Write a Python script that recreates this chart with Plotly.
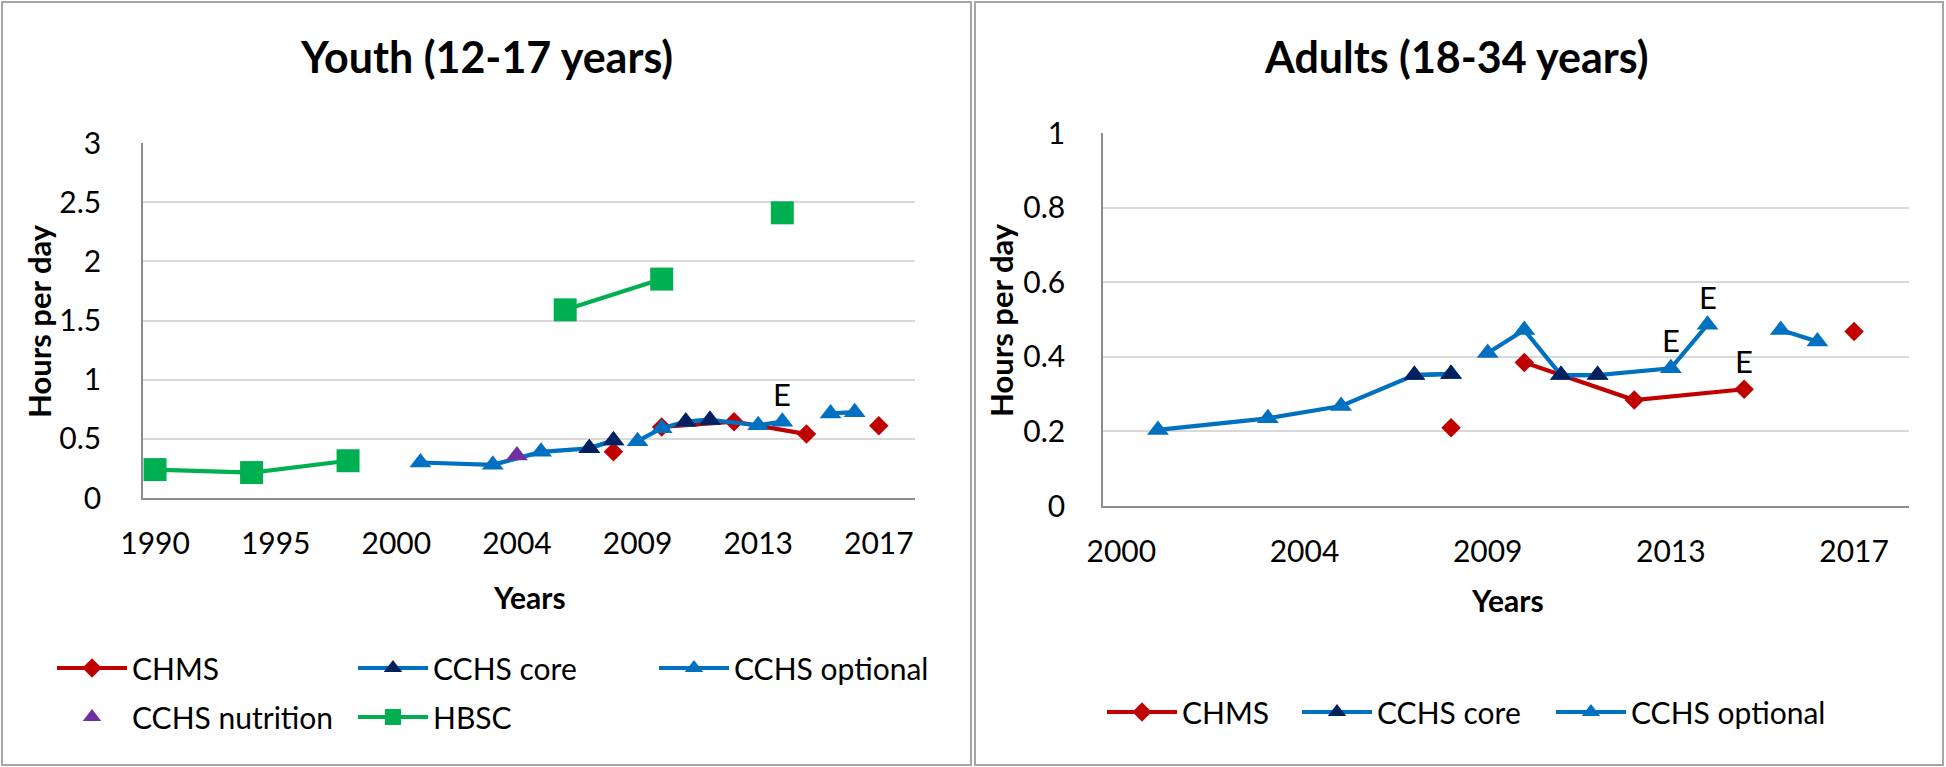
import plotly.graph_objects as go

W, H = 1946, 767
FONT = "Lato, 'Open Sans', sans-serif"

# ---- x categories: survey "slots" shared by both panels, labelled every 5 slots ----
youth_tick_slots = [0, 5, 10, 15, 20, 25, 30]
youth_tick_labels = ["1990", "1995", "2000", "2004", "2009", "2013", "2017"]
adult_tick_slots = [10, 15, 20, 25, 30]
adult_tick_labels = ["2000", "2004", "2009", "2013", "2017"]

# ---- Youth (12-17 years) ----
youth_chms_x = [19, None, 21, 24, 27, None, 30]
youth_chms_y = [0.39, None, 0.60, 0.645, 0.54, None, 0.61]
youth_chms_t = ["", "", "", "", "", "", ""]
youth_core_x = [18, 19, None, 22, 23]
youth_core_y = [0.42, 0.485, None, 0.645, 0.66]
youth_opt_x = [11, 14, 16, 18, 19, None, 20, 21, 22, 23, 25, 26, None, 28, 29]
youth_opt_y = [0.30, 0.28, 0.39, 0.42, 0.485, None, 0.48, 0.59, 0.645, 0.66, 0.615, 0.645, None, 0.715, 0.725]
youth_opt_t = ["", "", "", "", "", "", "", "", "", "", "", "E", "", "", ""]
youth_nutr_x = [15]
youth_nutr_y = [0.36]
youth_hbsc_x = [0, 4, 8, None, 17, 21, None, 26]
youth_hbsc_y = [0.24, 0.215, 0.315, None, 1.59, 1.85, None, 2.41]

# ---- Adults (18-34 years) ----
adult_chms_x = [19, None, 21, 24, 27, None, 30]
adult_chms_y = [0.21, None, 0.385, 0.284, 0.313, None, 0.468]
adult_chms_t = ["", "", "", "", "E", "", ""]
adult_core_x = [18, 19, None, 22, 23]
adult_core_y = [0.351, 0.354, None, 0.351, 0.351]
adult_opt_x = [11, 14, 16, 18, 19, None, 20, 21, 22, 23, 25, 26, None, 28, 29]
adult_opt_y = [0.204, 0.235, 0.268, 0.351, 0.354, None, 0.41, 0.472, 0.351, 0.351, 0.369, 0.486, None, 0.472, 0.441]
adult_opt_t = ["", "", "", "", "", "", "", "", "", "", "E", "E", "", "", ""]

RED = "#C00000"
NAVY = "#002060"
BLUE = "#0070C0"
PURPLE = "#7030A0"
GREEN = "#00B050"

LW = 4.2
TRI = 19
fig = go.Figure()


def add(x, y, name, xa, ya, legend, rank, color, line_color=None, symbol="circle",
        size=14, mode="lines+markers"):
    fig.add_trace(go.Scatter(
        x=x, y=y, name=name, xaxis=xa, yaxis=ya, legend=legend, legendrank=rank,
        mode=mode,
        line=dict(color=line_color or color, width=LW),
        marker=dict(color=color, symbol=symbol, size=size, line=dict(width=0)),
        connectgaps=False, cliponaxis=False, hoverinfo="x+y",
    ))


# Youth panel
add(youth_chms_x, youth_chms_y, "CHMS", "x", "y", "legend", 1, RED, symbol="diamond", size=15)
add(youth_opt_x, youth_opt_y, "CCHS optional", "x", "y", "legend", 3, BLUE, symbol="triangle-up", size=TRI)
add(youth_core_x, youth_core_y, "CCHS core", "x", "y", "legend", 2, NAVY, line_color=BLUE,
    symbol="triangle-up", size=TRI)
add(youth_nutr_x, youth_nutr_y, "CCHS nutrition", "x", "y", "legend2", 4, PURPLE,
    symbol="triangle-up", size=TRI, mode="markers")
add(youth_hbsc_x, youth_hbsc_y, "HBSC", "x", "y", "legend2", 5, GREEN, symbol="square", size=23)

# Adults panel
add(adult_chms_x, adult_chms_y, "CHMS", "x2", "y2", "legend3", 1, RED, symbol="diamond", size=15)
add(adult_opt_x, adult_opt_y, "CCHS optional", "x2", "y2", "legend5", 3, BLUE, symbol="triangle-up",
    size=TRI)
add(adult_core_x, adult_core_y, "CCHS core", "x2", "y2", "legend4", 2, NAVY, line_color=BLUE,
    symbol="triangle-up", size=TRI)


def px(x):
    return x / W


def py(y):
    return 1 - y / H


# "E" data labels (estimates flagged in the source) placed above their points
e_labels = []
for xs, ys, ts, xr, yr in [
    (youth_opt_x, youth_opt_y, youth_opt_t, "x", "y"),
    (adult_opt_x, adult_opt_y, adult_opt_t, "x2", "y2"),
    (adult_chms_x, adult_chms_y, adult_chms_t, "x2", "y2"),
]:
    for xv, yv, tv in zip(xs, ys, ts):
        if tv:
            e_labels.append(dict(text=tv, x=xv, y=yv, xref=xr, yref=yr, showarrow=False,
                                 yshift=28, xanchor="center", yanchor="middle",
                                 font=dict(family=FONT, size=31, color="#000000")))

tickfont = dict(family=FONT, size=30, color="#000000")
axis_common = dict(showline=True, linecolor="#8C8C8C", linewidth=1.5, ticks="",
                   tickfont=tickfont, zeroline=False, fixedrange=True, automargin=False)
legfont = dict(family=FONT, size=30, color="#000000")


def leg(x, y, **kw):
    d = dict(orientation="h", x=px(x), y=py(y), xanchor="left", yanchor="middle",
             font=legfont, itemwidth=70, bgcolor="rgba(0,0,0,0)", traceorder="normal")
    d.update(kw)
    return d


fig.update_layout(
    width=W, height=H, autosize=False,
    margin=dict(l=0, r=0, t=0, b=0, autoexpand=False),
    paper_bgcolor="white", plot_bgcolor="white",
    font=dict(family=FONT, color="#000000"),
    xaxis=dict(domain=[px(143), px(915)], range=[-0.5, 31.5], tickvals=youth_tick_slots,
               ticktext=youth_tick_labels, showgrid=False, anchor="y", ticklabelstandoff=18,
               **axis_common),
    yaxis=dict(domain=[py(498), py(143)], range=[0, 3], dtick=0.5, showgrid=True,
               gridcolor="#D9D9D9", gridwidth=1.5, anchor="x", ticklabelstandoff=34,
               **axis_common),
    xaxis2=dict(domain=[px(1103), px(1909)], range=[9.5, 31.5], tickvals=adult_tick_slots,
                ticktext=adult_tick_labels, showgrid=False, anchor="y2", ticklabelstandoff=18,
                **axis_common),
    yaxis2=dict(domain=[py(506), py(133)], range=[0, 1], dtick=0.2, showgrid=True,
                gridcolor="#D9D9D9", gridwidth=1.5, anchor="x2", ticklabelstandoff=30,
                **axis_common),
    legend=leg(52, 668, entrywidth=216, entrywidthmode="pixels"),
    legend2=leg(52, 717, entrywidth=216, entrywidthmode="pixels"),
    legend3=leg(1102, 712),
    legend4=leg(1297, 712),
    legend5=leg(1551, 712),
    shapes=[
        dict(type="rect", xref="paper", yref="paper", x0=px(2), x1=px(971), y0=py(765), y1=py(2),
             line=dict(color="#A6A6A6", width=2)),
        dict(type="rect", xref="paper", yref="paper", x0=px(975), x1=px(1943), y0=py(765), y1=py(2),
             line=dict(color="#A6A6A6", width=2)),
    ],
    annotations=[
        dict(text="<b>Youth (12-17 years)</b>", x=px(486), y=py(56), xref="paper", yref="paper",
             showarrow=False, font=dict(family=FONT, size=43), xanchor="center", yanchor="middle"),
        dict(text="<b>Adults (18-34 years)</b>", x=px(1456), y=py(56), xref="paper", yref="paper",
             showarrow=False, font=dict(family=FONT, size=43), xanchor="center", yanchor="middle"),
        dict(text="<b>Hours per day</b>", x=px(39), y=py(321), xref="paper", yref="paper",
             showarrow=False, textangle=-90, font=dict(family=FONT, size=31),
             xanchor="center", yanchor="middle"),
        dict(text="<b>Hours per day</b>", x=px(1001), y=py(320), xref="paper", yref="paper",
             showarrow=False, textangle=-90, font=dict(family=FONT, size=31),
             xanchor="center", yanchor="middle"),
        dict(text="<b>Years</b>", x=px(529), y=py(597), xref="paper", yref="paper",
             showarrow=False, font=dict(family=FONT, size=30), xanchor="center", yanchor="middle"),
        dict(text="<b>Years</b>", x=px(1507), y=py(600), xref="paper", yref="paper",
             showarrow=False, font=dict(family=FONT, size=30), xanchor="center", yanchor="middle"),
    ] + e_labels,
)

fig.write_html("out.html", include_plotlyjs=True, config={"displayModeBar": False},
               post_script="document.body.style.margin='0';document.body.style.overflow='hidden';")
